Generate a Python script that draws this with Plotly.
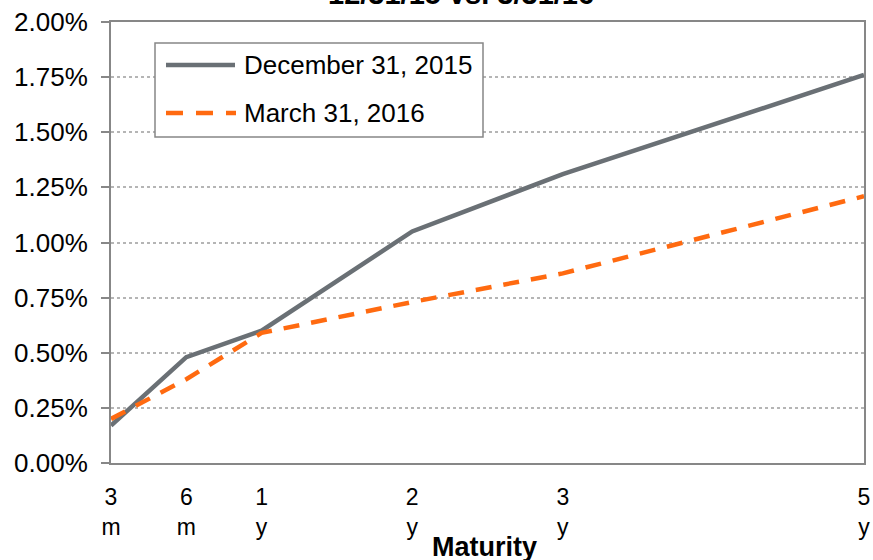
import plotly.graph_objects as go

# ---- data ----
maturity_labels = ["3<br>m", "6<br>m", "1<br>y", "2<br>y", "3<br>y", "5<br>y"]
maturity_pos = [0, 0.5, 1, 2, 3, 5]
dec_2015 = [0.17, 0.48, 0.60, 1.05, 1.31, 1.76]   # percent
mar_2016 = [0.20, 0.38, 0.59, 0.73, 0.86, 1.21]   # percent
y_ticks = [0, 0.25, 0.5, 0.75, 1.0, 1.25, 1.5, 1.75, 2.0]
series_names = ["December 31, 2015", "March 31, 2016"]
title_text = "12/31/15 vs. 3/31/16"
x_title = "Maturity"

W, H = 873, 560
L, R, T, B = 111, 9, 22, 97
PW, PH = W - L - R, H - T - B

def px(x):
    return (x - L) / PW

def py(y):
    return (H - B - y) / PH

GRAY = "#6a7075"
ORANGE = "#ff6a10"
FONT = "Liberation Sans, Arial, sans-serif"

fig = go.Figure()
fig.add_trace(go.Scatter(x=maturity_pos, y=[v / 100 for v in dec_2015], mode="lines",
                         name=series_names[0], line=dict(color=GRAY, width=4.5),
                         cliponaxis=False))
fig.add_trace(go.Scatter(x=maturity_pos, y=[v / 100 for v in mar_2016], mode="lines",
                         name=series_names[1], cliponaxis=False,
                         line=dict(color=ORANGE, width=4.5, dash="16px,12px")))

fig.update_layout(
    width=W, height=H,
    margin=dict(l=L, r=R, t=T, b=B, autoexpand=False),
    paper_bgcolor="white", plot_bgcolor="white",
    showlegend=False,
    font=dict(family=FONT, color="black", size=24),
)
fig.update_xaxes(
    range=[0, 5], tickvals=maturity_pos, ticktext=maturity_labels,
    showgrid=False, zeroline=False, showline=True, mirror=True,
    linecolor="#878787", linewidth=2, ticks="", automargin=False,
    tickfont=dict(size=23), ticklabelstandoff=12,
)
fig.update_yaxes(
    range=[0, 0.02], tickvals=[v / 100 for v in y_ticks],
    tickformat=".2%", showgrid=True, gridcolor="#b5b5b5", griddash="dot",
    gridwidth=1.5, zeroline=False, showline=True, mirror=True,
    linecolor="#878787", linewidth=2, ticks="outside", ticklen=8,
    tickcolor="#878787", tickwidth=2, automargin=False,
    tickfont=dict(size=26), ticklabelstandoff=8,
)

# manual legend
shapes = [
    dict(type="rect", xref="paper", yref="paper",
         x0=px(155), x1=px(483), y0=py(43), y1=py(137),
         line=dict(color="#878787", width=1.5), fillcolor="white", layer="above"),
    dict(type="line", xref="paper", yref="paper",
         x0=px(166), x1=px(235), y0=py(65), y1=py(65),
         line=dict(color=GRAY, width=4.5), layer="above"),
    dict(type="line", xref="paper", yref="paper",
         x0=px(166), x1=px(236), y0=py(113), y1=py(113),
         line=dict(color=ORANGE, width=4.5, dash="17px,13px"), layer="above"),
]
fig.update_layout(shapes=shapes)

annotations = [
    dict(text=series_names[0], x=px(242), y=py(65), xref="paper", yref="paper",
         xanchor="left", yanchor="middle", showarrow=False, font=dict(size=26)),
    dict(text=series_names[1], x=px(242), y=py(113), xref="paper", yref="paper",
         xanchor="left", yanchor="middle", showarrow=False, font=dict(size=26)),
    dict(text="<b>" + title_text + "</b>", x=px(461), y=py(12), xref="paper", yref="paper",
         xanchor="center", yanchor="bottom", showarrow=False, font=dict(size=29)),
    dict(text="<b>" + x_title + "</b>", x=px(484), y=py(547), xref="paper", yref="paper",
         xanchor="center", yanchor="middle", showarrow=False, font=dict(size=27)),
]
fig.update_layout(annotations=annotations)

fig.write_html("out.html", config={"displayModeBar": False},
               post_script="document.body.style.margin='0';")
